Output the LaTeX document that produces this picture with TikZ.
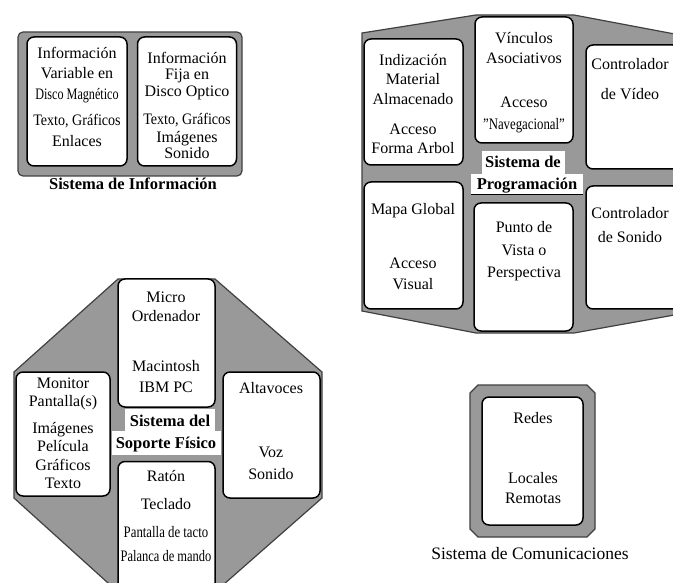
\documentclass[tikz,border=0pt]{standalone}
\usepackage{fontspec}
\setmainfont{Liberation Serif}
\usetikzlibrary{positioning}
\definecolor{pat}{gray}{0.6}
\definecolor{patedge}{gray}{0.25}
\tikzset{
  graybg/.style={fill=pat, draw=patedge, line width=1.2pt},
  box/.style={draw=black, fill=white, line width=1.5pt, rounded corners=7pt, inner sep=0pt},
  txt/.style={font=\fontsize{16}{19}\selectfont, inner sep=0pt, anchor=base},
  lbl/.style={font=\fontsize{16.5}{19}\selectfont\bfseries, inner sep=0pt, anchor=base},
}
\newcommand{\sq}[2][0.82]{\scalebox{#1}[1]{#2}}
\begin{document}
\begin{tikzpicture}[x=1pt,y=-1pt]
\useasboundingbox (0,0) rectangle (673,583);
\fill[white] (0,0) rectangle (673,583);
\begin{scope}
\clip (0,0) rectangle (673,583);

% ---------------- Sistema de Informacion ----------------
\draw[graybg, rounded corners=5pt] (18,32) rectangle (242,176);
\node[box, minimum width=100pt, minimum height=129pt] (infoL) at (77,101.5) {};
\node[box, minimum width=99pt, minimum height=129pt] (infoR) at (187,101.5) {};
\node[txt] (iL1) at (77,59) {Información};
\node[txt] (iL2) at (77,79) {Variable en};
\node[txt] (iL3) at (77,100) {\sq[0.76]{Disco Magnético}};
\node[txt] (iL4) at (77,126) {\sq[0.88]{Texto, Gráficos}};
\node[txt] (iL5) at (77,147) {Enlaces};
\node[txt] (iR1) at (187,64) {Información};
\node[txt] (iR2) at (187,80) {Fija en};
\node[txt] (iR3) at (187,97) {Disco Optico};
\node[txt] (iR4) at (187,125) {\sq[0.88]{Texto, Gráficos}};
\node[txt] (iR5) at (187,143) {Imágenes};
\node[txt] (iR6) at (187,159) {Sonido};
\node[lbl] (infoLbl) at (133,190) {Sistema de Información};

% ---------------- Sistema de Programacion ----------------
\draw[graybg] (362,33) -- (476,15) -- (574,15) -- (680,35) -- (680,314)
  -- (574,333) -- (476,333) -- (362,311) -- cycle;
\node[box, minimum width=99pt, minimum height=126pt] (indiz) at (413.5,102) {};
\node[box, minimum width=98pt, minimum height=126pt] (vinc) at (524,80) {};
\node[box, minimum width=94pt, minimum height=124pt] (ctrlV) at (633,107) {};
\node[box, minimum width=99pt, minimum height=127pt] (mapa) at (413.5,245.5) {};
\node[box, minimum width=99pt, minimum height=128pt] (punto) at (523.5,267) {};
\node[box, minimum width=94pt, minimum height=123pt] (ctrlS) at (633,247.5) {};
\node[txt] (p1) at (413,66) {Indización};
\node[txt] (p2) at (413,85) {Material};
\node[txt] (p3) at (413,105) {Almacenado};
\node[txt] (p4) at (413,135) {Acceso};
\node[txt] (p5) at (413,154) {Forma Arbol};
\node[txt] (p6) at (524,44) {Vínculos};
\node[txt] (p7) at (524,64) {Asociativos};
\node[txt] (p8) at (524,108) {Acceso};
\node[txt] (p9) at (524,130) {\sq[0.8]{\symbol{34}Navegacional\symbol{34}}};
\node[txt] (p10) at (630,70) {Controlador};
\node[txt] (p11) at (630,100) {de Vídeo};
\node[txt] (p12) at (413,215) {Mapa Global};
\node[txt] (p13) at (413,269) {Acceso};
\node[txt] (p14) at (413,290) {Visual};
\node[txt] (p15) at (524,233) {Punto de};
\node[txt] (p16) at (524,256) {Vista o};
\node[txt] (p17) at (524,278) {Perspectiva};
\node[txt] (p18) at (630,219) {Controlador};
\node[txt] (p19) at (630,243) {de Sonido};
\fill[white] (482,151) rectangle (565,174);
\fill[white] (471,174) rectangle (583,194);
\draw[black, line width=0.8pt] (471,194) -- (583,194);
\node[lbl] (progLbl1) at (523,168) {Sistema de};
\node[lbl] (progLbl2) at (527,190) {Programación};

% ---------------- Sistema del Soporte Fisico ----------------
\draw[graybg] (118,279) -- (215,279) -- (322,372) -- (322,498) -- (215,592)
  -- (118,592) -- (14,498) -- (14,372) -- cycle;
\node[box, minimum width=97pt, minimum height=128pt] (micro) at (166.5,343) {};
\node[box, minimum width=94pt, minimum height=124pt] (monitor) at (63,434) {};
\node[box, minimum width=97pt, minimum height=126pt] (altav) at (271.5,435) {};
\node[box, minimum width=97pt, minimum height=129pt] (raton) at (166.5,526) {};
\node[txt] (s1) at (166,302) {Micro};
\node[txt] (s2) at (166,321) {Ordenador};
\node[txt] (s3) at (166,371) {Macintosh};
\node[txt] (s4) at (166,392) {IBM PC};
\node[txt] (s5) at (63,388) {Monitor};
\node[txt] (s6) at (63,406) {Pantalla(s)};
\node[txt] (s7) at (63,433) {Imágenes};
\node[txt] (s8) at (63,451) {Película};
\node[txt] (s9) at (63,470) {Gráficos};
\node[txt] (s10) at (63,488) {Texto};
\node[txt] (s11) at (271,393) {Altavoces};
\node[txt] (s12) at (271,457) {Voz};
\node[txt] (s13) at (271,479) {Sonido};
\node[txt] (s14) at (166,481) {Ratón};
\node[txt] (s15) at (166,509) {Teclado};
\node[txt] (s16) at (166,537) {\sq[0.8]{Pantalla de tacto}};
\node[txt] (s17) at (166,561) {\sq[0.78]{Palanca de mando}};
\fill[white] (125,409) rectangle (215,431);
\fill[white] (112,431) rectangle (221,455);
\node[lbl] (sopLbl1) at (170,426) {Sistema del};
\node[lbl] (sopLbl2) at (166,448) {Soporte Físico};

% ---------------- Sistema de Comunicaciones ----------------
\draw[graybg] (478,385) -- (587,385) -- (595,393) -- (595,529) -- (587,537)
  -- (478,537) -- (470,529) -- (470,393) -- cycle;
\node[box, minimum width=101pt, minimum height=128pt] (redes) at (532.5,461) {};
\node[txt] (c1) at (533,423) {Redes};
\node[txt] (c2) at (533,483) {Locales};
\node[txt] (c3) at (533,503) {Remotas};
\node[txt, font=\fontsize{17.5}{20}\selectfont] (commLbl) at (530,559) {Sistema de Comunicaciones};
\end{scope}
\end{tikzpicture}
\end{document}
